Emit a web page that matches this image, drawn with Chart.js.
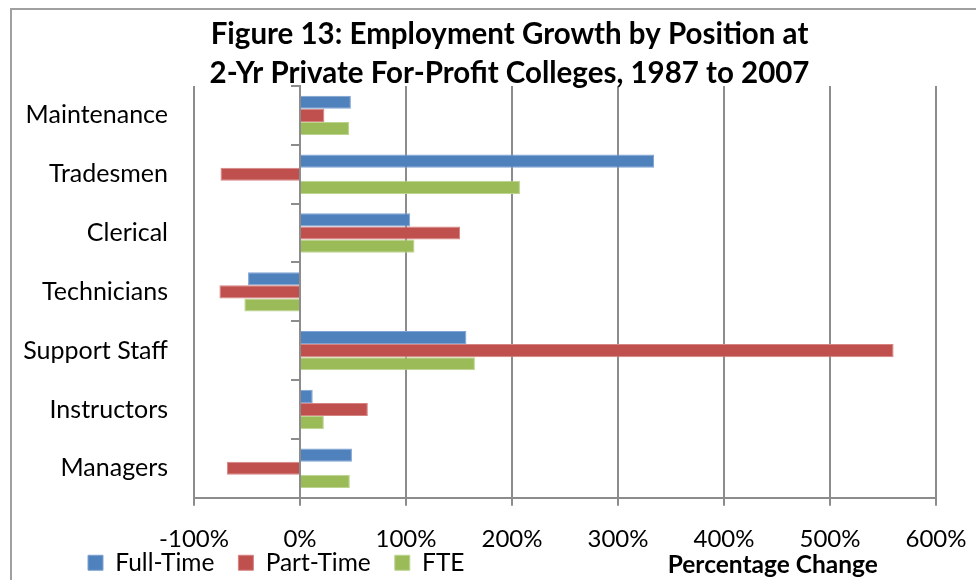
<!DOCTYPE html>
<html>
<head>
<meta charset="utf-8">
<script src="https://cdn.jsdelivr.net/npm/chart.js@4.4.1/dist/chart.umd.min.js"></script>
<style>
  html, body { margin: 0; padding: 0; background: #fff; }
  #wrap { position: relative; width: 976px; height: 580px; }
</style>
</head>
<body>
<div id="wrap"><canvas id="c" width="976" height="580"></canvas></div>
<script>
const categories = ['Maintenance', 'Tradesmen', 'Clerical', 'Technicians', 'Support Staff', 'Instructors', 'Managers'];
const fullTime = [48, 334, 104, -49, 157, 12, 49];
const partTime = [23, -75, 151, -76, 560, 64, -69];
const fte      = [46.5, 207.5, 108, -52.5, 165, 22.5, 47];
const seriesNames = ['Full-Time', 'Part-Time', 'FTE'];
const titleLines = ['Figure 13: Employment Growth by Position at', '2-Yr Private For-Profit Colleges, 1987 to 2007'];
const axisTitle = 'Percentage Change';
const xMin = -100, xMax = 600, xStep = 100;

const FONT = 'Lato, "Open Sans", sans-serif';
const GRID = '#8c8c8c';
const LEG_PAD = 24;

const frame = {
  id: 'frame',
  beforeDraw(chart) {
    const ctx = chart.ctx;
    ctx.save();
    ctx.fillStyle = '#fff';
    ctx.fillRect(0, 0, chart.width, chart.height);
    ctx.strokeStyle = '#a0a0a0';
    ctx.lineWidth = 2;
    ctx.beginPath();
    ctx.moveTo(11, chart.height + 5);
    ctx.lineTo(11, 9);
    ctx.lineTo(chart.width + 5, 9);
    ctx.stroke();
    ctx.restore();
    // place title and legend blocks like the original layout
    if (chart.titleBlock) { chart.titleBlock.left = 83; chart.titleBlock.right = 936; }
    if (chart.legend) {
      chart.legend.left = 88 - LEG_PAD;
      chart.legend.top = 550.5 - LEG_PAD;
    }
  }
};

const axisTitlePlugin = {
  id: 'axisTitlePlugin',
  afterDraw(chart) {
    const ctx = chart.ctx;
    const lg = chart.legend;
    const x = chart.scales.x.getPixelForValue(446);
    const y = lg.top + LEG_PAD + 14.5;
    ctx.save();
    ctx.font = 'bold 24.5px ' + FONT;
    ctx.fillStyle = '#000';
    ctx.textAlign = 'center';
    ctx.textBaseline = 'middle';
    ctx.fillText(axisTitle, x, y);
    ctx.restore();
  }
};

new Chart(document.getElementById('c'), {
  type: 'bar',
  data: {
    labels: categories,
    datasets: [
      { label: seriesNames[0], data: fullTime, backgroundColor: '#4F81BD', borderColor: '#7fa3d2', borderWidth: 1 },
      { label: seriesNames[1], data: partTime, backgroundColor: '#C0504D', borderColor: '#d58482', borderWidth: 1 },
      { label: seriesNames[2], data: fte, backgroundColor: '#9BBB59', borderColor: '#bcd48e', borderWidth: 1 }
    ]
  },
  options: {
    indexAxis: 'y',
    responsive: false,
    animation: false,
    devicePixelRatio: 1,
    layout: { padding: { left: 20, right: 40, top: 10, bottom: -51 } },
    datasets: { bar: { categoryPercentage: 0.67, barPercentage: 1.0 } },
    plugins: {
      title: {
        display: true,
        text: titleLines,
        color: '#000',
        font: { family: FONT, size: 29.5, weight: 'bold', lineHeight: '39px' },
        padding: { top: 4.5, bottom: -6.5 }
      },
      legend: {
        display: true,
        position: 'bottom',
        align: 'start',
        labels: {
          color: '#000',
          font: { family: FONT, size: 24.5 },
          boxWidth: 15,
          boxHeight: 15,
          padding: LEG_PAD
        }
      },
      tooltip: { enabled: false }
    },
    scales: {
      x: {
        type: 'linear',
        min: xMin,
        max: xMax,
        ticks: {
          stepSize: xStep,
          color: '#000',
          font: { family: FONT, size: 24 },
          padding: 19,
          callback: v => v + '%'
        },
        grid: { color: GRID, lineWidth: 2, tickLength: 8, drawTicks: true },
        border: { color: GRID, width: 2 },
        afterFit: s => { s.paddingRight = 0; s.paddingLeft = 0; }
      },
      y: {
        type: 'category',
        grid: { display: false },
        border: { display: false },
        ticks: { color: '#000', font: { family: FONT, size: 25 }, padding: 18 },
        afterFit: s => { s.width = 174; }
      },
      y0: {
        type: 'category',
        axis: 'y',
        position: { x: 0 },
        offset: true,
        ticks: { display: false },
        grid: { drawOnChartArea: false, offset: true, tickLength: 8, color: GRID, lineWidth: 2 },
        border: { color: GRID, width: 2 }
      }
    }
  },
  plugins: [frame, axisTitlePlugin]
});
</script>
</body>
</html>
